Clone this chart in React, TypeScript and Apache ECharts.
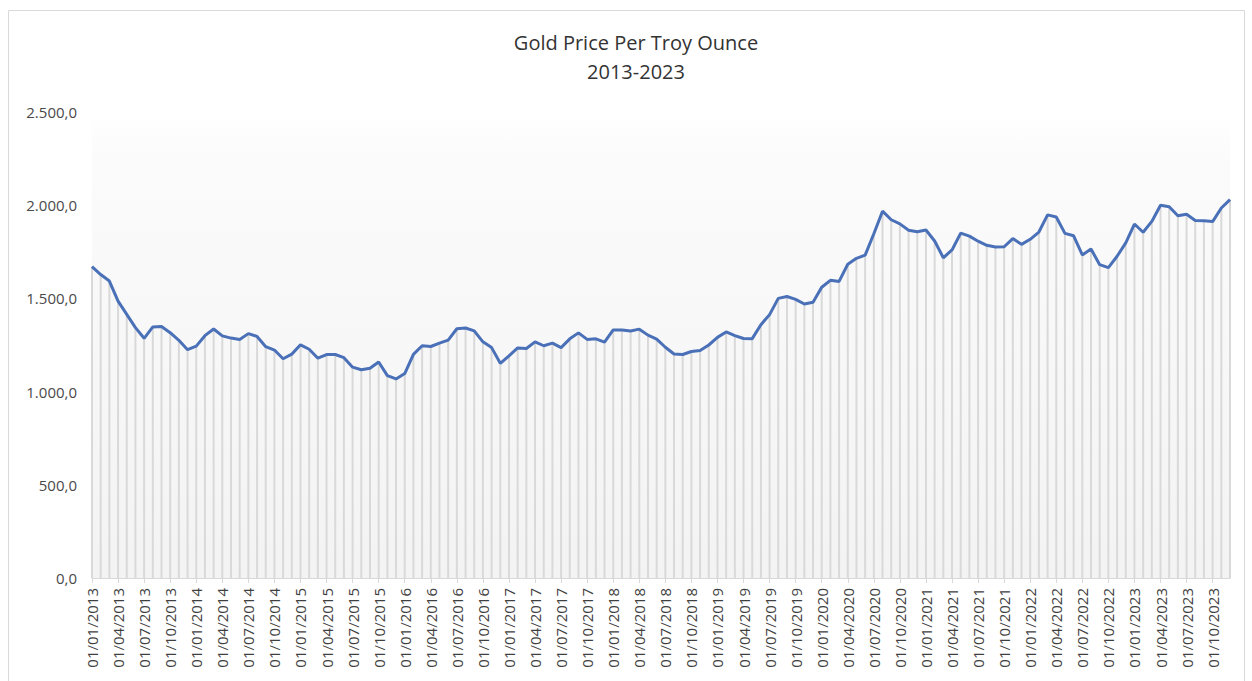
import React, { useEffect, useRef } from "react";
import * as echarts from "echarts";

const years = [2013, 2014, 2015, 2016, 2017, 2018, 2019, 2020, 2021, 2022, 2023];

const prices2013 = [1670, 1628, 1593, 1485, 1414, 1343, 1286, 1347, 1349, 1316, 1275, 1225];
const prices2014 = [1244, 1300, 1336, 1299, 1287, 1279, 1311, 1296, 1241, 1223, 1176, 1201];
const prices2015 = [1251, 1227, 1179, 1199, 1199, 1182, 1131, 1117, 1125, 1159, 1086, 1068];
const prices2016 = [1097, 1200, 1246, 1242, 1260, 1276, 1337, 1341, 1326, 1267, 1236, 1152];
const prices2017 = [1192, 1234, 1231, 1267, 1246, 1260, 1236, 1283, 1315, 1280, 1283, 1265];
const prices2018 = [1331, 1331, 1325, 1335, 1303, 1282, 1238, 1202, 1199, 1215, 1221, 1250];
const prices2019 = [1291, 1320, 1300, 1285, 1284, 1359, 1413, 1500, 1510, 1495, 1470, 1479];
const prices2020 = [1560, 1597, 1591, 1683, 1715, 1732, 1847, 1968, 1922, 1900, 1866, 1858];
const prices2021 = [1867, 1808, 1718, 1760, 1850, 1834, 1807, 1785, 1776, 1777, 1821, 1790];
const prices2022 = [1817, 1856, 1948, 1937, 1849, 1836, 1733, 1765, 1681, 1665, 1726, 1798];
const prices2023 = [1899, 1855, 1913, 2000, 1992, 1943, 1951, 1918, 1916, 1912, 1985, 2030];

const months = ["01", "02", "03", "04", "05", "06", "07", "08", "09", "10", "11", "12"];

const categories: string[] = [];
years.forEach((y) => months.forEach((m) => categories.push(`01/${m}/${y}`)));

const prices = [
  ...prices2013, ...prices2014, ...prices2015, ...prices2016, ...prices2017, ...prices2018,
  ...prices2019, ...prices2020, ...prices2021, ...prices2022, ...prices2023,
];

const yTicks = [0, 500, 1000, 1500, 2000, 2500];

function fmt(v: number): string {
  const s = Math.round(v).toString().replace(/\B(?=(\d{3})+(?!\d))/g, ".");
  return s + ",0";
}

export default function App() {
  const ref = useRef<HTMLDivElement>(null);
  useEffect(() => {
    if (!ref.current) return;
    const chart = echarts.init(ref.current, undefined, { renderer: "svg" });
    const font = "'Open Sans', 'Liberation Sans', sans-serif";
    chart.setOption({
      animation: false,
      backgroundColor: "#ffffff",
      title: {
        text: "Gold Price Per Troy Ounce\n2013-2023",
        left: 631,
        top: 23,
        textAlign: "center",
        textStyle: {
          fontFamily: font,
          fontSize: 20,
          fontWeight: "normal",
          color: "#333333",
          lineHeight: 29,
        },
      },
      graphic: [
        {
          type: "rect",
          shape: { x: 8.5, y: 10.5, width: 1236, height: 700 },
          style: { fill: "none", stroke: "#d9d9d9", lineWidth: 1 },
          silent: true,
        },
      ],
      grid: {
        left: 92,
        right: 22,
        top: 112,
        bottom: 103,
        show: true,
        borderWidth: 0,
        backgroundColor: {
          type: "linear",
          x: 0, y: 0, x2: 0, y2: 1,
          colorStops: [
            { offset: 0, color: "#ffffff" },
            { offset: 0.1, color: "#fbfbfb" },
            { offset: 1, color: "#f3f3f3" },
          ],
        },
      },
      xAxis: {
        type: "category",
        data: categories,
        boundaryGap: false,
        axisLine: { show: true, lineStyle: { color: "#d9d9d9", width: 1 } },
        axisTick: { show: true, interval: 2, length: 5, lineStyle: { color: "#d9d9d9" } },
        axisLabel: {
          interval: 2,
          rotate: 90,
          margin: 10,
          fontFamily: font,
          fontSize: 15,
          color: "#3f3f3f",
        },
        splitLine: { show: false },
      },
      yAxis: {
        type: "value",
        min: yTicks[0],
        max: yTicks[yTicks.length - 1],
        interval: 500,
        axisLine: { show: false },
        axisTick: { show: false },
        splitLine: { show: false },
        axisLabel: {
          formatter: (v: number) => fmt(v),
          margin: 15,
          fontFamily: font,
          fontSize: 15,
          color: "#4a4a4a",
        },
      },
      series: [
        {
          type: "bar",
          data: prices,
          barWidth: 2,
          itemStyle: { color: "#d9d9d9" },
          silent: true,
          z: 1,
        },
        {
          type: "line",
          data: prices,
          showSymbol: false,
          symbol: "none",
          lineStyle: { color: "#4a70b8", width: 3 },
          z: 3,
        },
      ],
    });
    return () => chart.dispose();
  }, []);
  return (
    <div
      ref={ref}
      style={{ position: "fixed", left: 0, top: 0, width: 1252, height: 681 }}
    />
  );
}
